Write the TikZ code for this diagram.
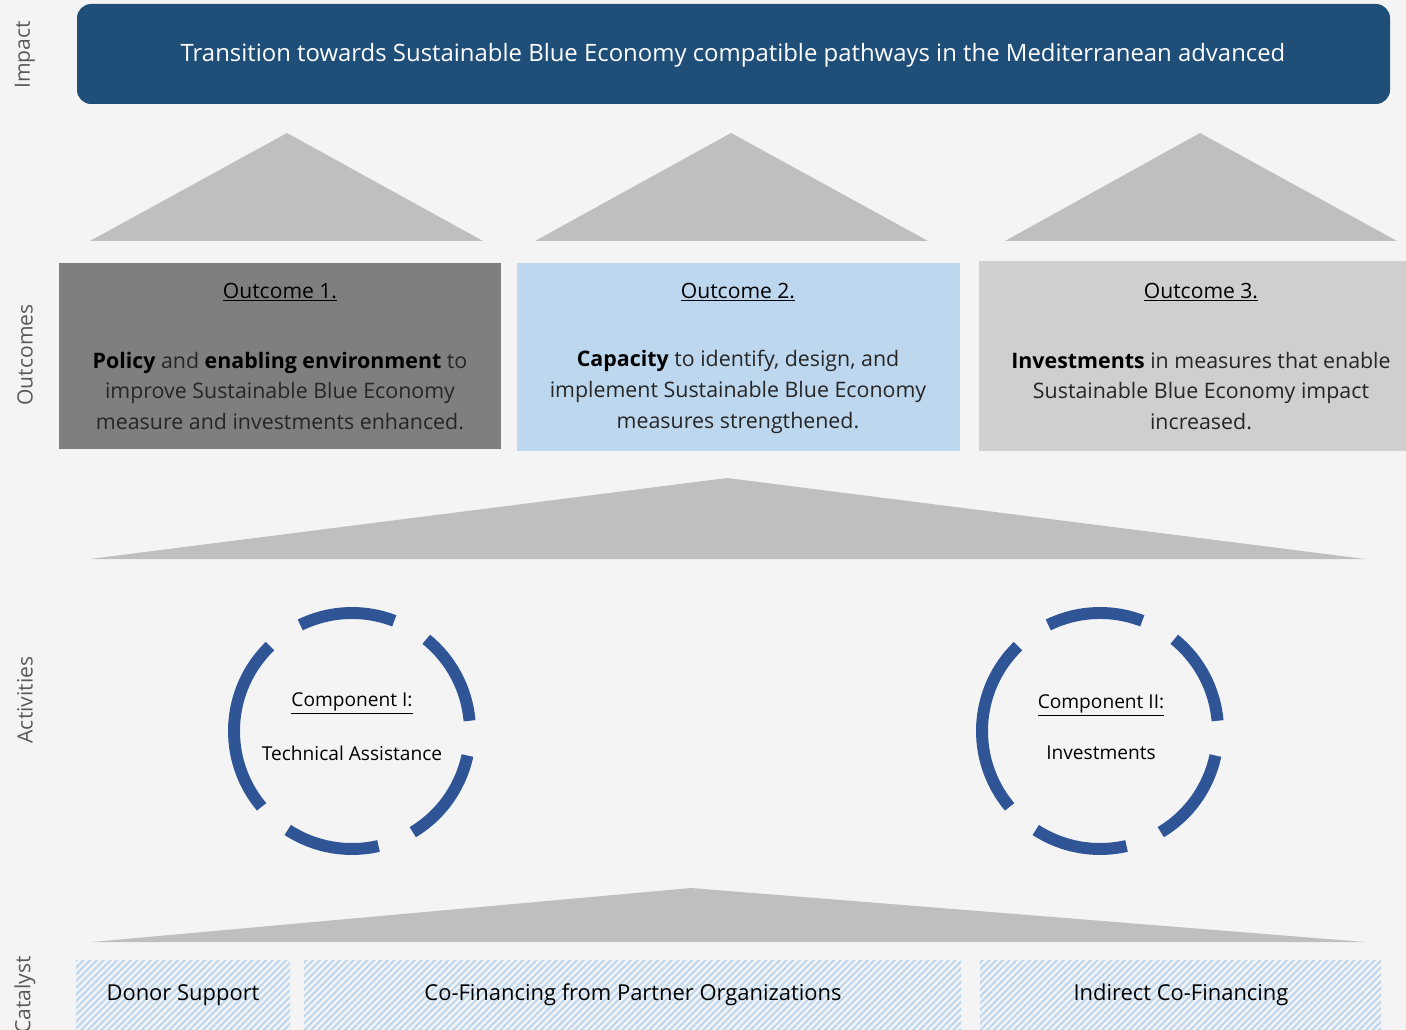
\documentclass[tikz,border=0pt]{standalone}
\usepackage{fontspec}
\setmainfont{Open Sans}
\usetikzlibrary{patterns.meta}

\definecolor{paper}{HTML}{F4F4F4}
\definecolor{impactblue}{HTML}{1F4E79}
\definecolor{arrowgray}{HTML}{BFBFBF}
\definecolor{outonegray}{HTML}{7F7F7F}
\definecolor{outtwoblue}{HTML}{BDD7EE}
\definecolor{outthreegray}{HTML}{D0CECE}
\definecolor{ringblue}{HTML}{2F5597}
\definecolor{labelgray}{HTML}{595959}
\definecolor{bodyblack}{HTML}{262626}

\tikzset{
  rowlabel/.style={rotate=90, text=labelgray, font=\fontsize{15}{18}\selectfont},
  outhead/.style={font=\fontsize{15}{18}\selectfont, text=black},
  outbody/.style={align=center, font=\fontsize{15.2}{22}\selectfont, text=bodyblack},
  ringtext/.style={font=\fontsize{13.6}{16}\selectfont, text=black},
  ring/.style={draw=ringblue, line width=8.5pt},
  arrowhead/.style={fill=arrowgray},
  catbox/.style={fill=white, pattern={Lines[angle=45,distance=3.4pt,line width=1.5pt]}, pattern color=outtwoblue},
  cattext/.style={font=\fontsize{15.6}{18}\selectfont, text=black}
}

\begin{document}
\begin{tikzpicture}[x=0.025cm, y=-0.025cm]
                \useasboundingbox (0,0) rectangle (1406,1030);
                \clip (0,0) rectangle (1406,1030);
                \fill [paper] (0,0) rectangle (1406,1030);%

                % Drawing row labels
                \node [rowlabel] (lblimpact) at (25,55) {Impact};%
                \node [rowlabel] (lbloutcomes) at (25,355) {Outcomes};%
                \node [rowlabel] (lblactivities) at (25,700) {Activities};%
                \node [rowlabel] (lblcatalyst) at (25,995) {Catalyst};%

                % Drawing impact box
                \fill [impactblue, rounded corners=10pt] (77,4) rectangle (1390,104);%
                \node [text=white, font=\fontsize{17}{20}\selectfont] (impact) at (733,55)
                  {Transition towards Sustainable Blue Economy compatible pathways in the Mediterranean advanced};%

                % Drawing upper triangles
                \fill [arrowhead] (90,241) -- (287,133) -- (483,241) -- cycle;%
                \fill [arrowhead] (535,241) -- (731,133) -- (928,241) -- cycle;%
                \fill [arrowhead] (1005,241) -- (1200,133) -- (1397,241) -- cycle;%

                % Drawing outcome 1
                \fill [outonegray] (59,263) rectangle (501,449);%
                \node [outhead] (headone) at (280,292) {\underline{Outcome 1.}};%
                \node [outbody] (bodyone) at (280,391)
                  {{\color{black}\bfseries Policy} and {\color{black}\bfseries enabling environment} to\\
                   improve Sustainable Blue Economy\\
                   measure and investments enhanced.};%

                % Drawing outcome 2
                \fill [outtwoblue] (517,263) rectangle (960,451);%
                \node [outhead] (headtwo) at (738,292) {\underline{Outcome 2.}};%
                \node [outbody] (bodytwo) at (738,392)
                  {{\color{black}\bfseries Capacity} to identify, design, and\\
                   implement Sustainable Blue Economy\\
                   measures strengthened.};%

                % Drawing outcome 3
                \fill [outthreegray] (979,261) rectangle (1406,451);%
                \node [outhead] (headthree) at (1201,292) {\underline{Outcome 3.}};%
                \node [outbody] (bodythree) at (1201,391)
                  {{\color{black}\bfseries Investments} in measures that enable\\
                   Sustainable Blue Economy impact\\
                   increased.};%

                % Drawing middle triangle
                \fill [arrowhead] (90,559) -- (727,478) -- (1365,559) -- cycle;%

                % Drawing component rings
                \foreach \cx/\cy in {352/731, 1100/731}
                  \foreach \a/\b in {5/51, 69/116, 134/220, 237/283, 301/348}
                    \draw [ring] (\cx,\cy) ++(-\a:118) arc [start angle=-\a, end angle=-\b, radius=118];%

                % Marking component I
                \node [ringtext] (compone) at (352,703) {\underline{Component I:}};%
                \node [ringtext] (taone) at (352,753) {Technical Assistance};%

                % Marking component II
                \node [ringtext] (comptwo) at (1101,705) {\underline{Component II:}};%
                \node [ringtext] (invtwo) at (1101,753) {Investments};%

                % Drawing lower triangle
                \fill [arrowhead] (92,942) -- (691,888) -- (1365,942) -- cycle;%

                % Drawing catalyst boxes
                \fill [catbox] (76,960) rectangle (290,1032);%
                \fill [catbox] (304,960) rectangle (961,1032);%
                \fill [catbox] (980,960) rectangle (1381,1032);%
                \node [cattext] (donor) at (183,995) {Donor Support};%
                \node [cattext] (partner) at (633,995) {Co-Financing from Partner Organizations};%
                \node [cattext] (indirect) at (1181,995) {Indirect Co-Financing};%
\end{tikzpicture}
\end{document}
